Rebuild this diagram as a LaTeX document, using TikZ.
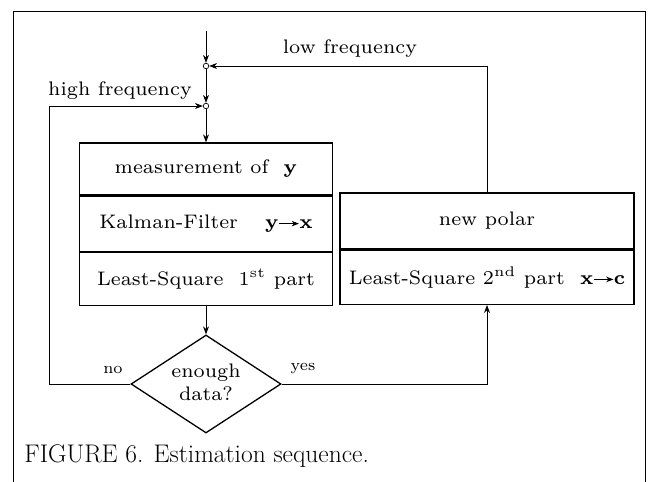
\documentclass[tikz,border=0pt]{standalone}
\usetikzlibrary{arrows.meta,shapes.geometric}
\newcommand{\smallarr}{\tikz[baseline=-0.6ex]\draw[line width=0.3pt,-{Stealth[length=2.6pt,width=2pt]}] (0pt,0pt) -- (7pt,0pt);}
\newcommand{\tx}[1]{\scalebox{2.8}{\fontsize{7}{8.6}\selectfont #1}}
\newcommand{\txs}[1]{\scalebox{2.3}{\fontsize{7}{8.6}\selectfont #1}}
\begin{document}
\begin{tikzpicture}[x=1pt,y=-1pt,
  line width=0.9pt,
  arr/.style={-{Stealth[length=8pt,width=6pt]}},
  junc/.style={circle,draw,fill=white,inner sep=0pt,minimum size=5.5pt,line width=0.7pt},
  row/.style={draw,line width=1.3pt,inner sep=0pt},
  lab/.style={inner sep=0pt}]
\useasboundingbox (0,0) rectangle (659,482);
% frame
\draw[line width=0.8pt] (13,485) -- (13,11) -- (645,11) -- (645,485);
% junctions
\coordinate (top) at (206,31);
\node[junc] (c1) at (206,66) {};
\node[junc] (c2) at (206,106) {};
% left box
\node[row,minimum width=253pt,minimum height=52pt] (m1) at (206,169) {\tx{measurement of \ \(\mathbf{y}\)}};
\node[row,minimum width=253pt,minimum height=55pt,anchor=north] (m2) at (m1.south) {\tx{Kalman-Filter \quad\(\mathbf{y}\)\smallarr\(\mathbf{x}\)}};
\node[row,minimum width=253pt,minimum height=53pt,anchor=north] (m3) at (m2.south) {\tx{Least-Square \ 1\textsuperscript{st} part}};
% right box
\node[row,minimum width=294pt,minimum height=56pt] (p1) at (487,221) {\tx{new polar}};
\node[row,minimum width=294pt,minimum height=54pt,anchor=north] (p2) at (p1.south) {\tx{Least-Square 2\textsuperscript{nd} part \ \(\mathbf{x}\)\smallarr\(\mathbf{c}\)}};
% decision
\node[diamond,draw,line width=1.3pt,inner sep=0pt,aspect=1.53,minimum width=150pt,minimum height=98pt] (d) at (206,384) {\tx{\begin{tabular}{@{}c@{}}enough\\[-0.5pt]data?\end{tabular}}};
% connectors
\draw[arr] (top) -- (c1);
\draw[arr] (c1) -- (c2);
\draw[arr] (c2) -- (m1.north);
\draw[arr] (m3.south) -- (d.north);
\draw[arr] (d.east) -| (p2.south);
\coordinate (hl) at (49,106);
\draw[arr] (d.west) -| (hl) -- (c2);
\draw[arr] (p1.north) |- (c1);
% labels
\node[lab] (lf) at (350,49) {\tx{low frequency}};
\node[lab] (hf) at (120,91) {\tx{high frequency}};
\node[lab] (no) at (113,370) {\txs{no}};
\node[lab] (yes) at (303,369) {\txs{yes}};
\node[anchor=base west,inner sep=0pt,font=\fontsize{25.5}{28}\selectfont] (cap) at (24,462) {FIGURE 6. Estimation sequence.};
\end{tikzpicture}
\end{document}
